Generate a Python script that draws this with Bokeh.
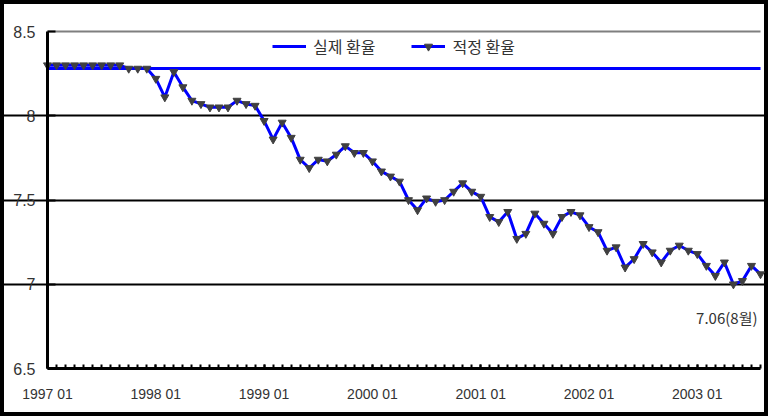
from bokeh.plotting import figure
from bokeh.models import FixedTicker, Legend, LegendItem, Range1d, Grid
from bokeh.core.properties import value
from bokeh.embed import file_html
from bokeh.resources import INLINE

# Monthly index: 0 = 1997-01 ... 79 = 2003-08
months = list(range(80))

year_ticks = [0, 12, 24, 36, 48, 60, 72]
year_labels = ["1997 01", "1998 01", "1999 01", "2000 01", "2001 01", "2002 01", "2003 01"]

y_ticks = [6.5, 7, 7.5, 8, 8.5]
y_labels = ["6.5", "7", "7.5", "8", "8.5"]
grid_levels = [7, 7.5, 8]

# Actual RMB/USD rate (pegged)
actual = [
    8.28, 8.28, 8.28, 8.28, 8.28, 8.28, 8.28, 8.28, 8.28, 8.28, 8.28, 8.28,
    8.28, 8.28, 8.28, 8.28, 8.28, 8.28, 8.28, 8.28, 8.28, 8.28, 8.28, 8.28,
    8.28, 8.28, 8.28, 8.28, 8.28, 8.28, 8.28, 8.28, 8.28, 8.28, 8.28, 8.28,
    8.28, 8.28, 8.28, 8.28, 8.28, 8.28, 8.28, 8.28, 8.28, 8.28, 8.28, 8.28,
    8.28, 8.28, 8.28, 8.28, 8.28, 8.28, 8.28, 8.28, 8.28, 8.28, 8.28, 8.28,
    8.28, 8.28, 8.28, 8.28, 8.28, 8.28, 8.28, 8.28, 8.28, 8.28, 8.28, 8.28,
    8.28, 8.28, 8.28, 8.28, 8.28, 8.28, 8.28, 8.28,
]

# Estimated equilibrium rate
appropriate = [
    8.30, 8.30, 8.30, 8.30, 8.30, 8.30, 8.30, 8.30, 8.30, 8.28, 8.28, 8.28,
    8.22, 8.11, 8.26, 8.17, 8.09, 8.07, 8.05, 8.05, 8.05, 8.09, 8.07, 8.06,
    7.97, 7.86, 7.96, 7.87, 7.74, 7.69, 7.74, 7.73, 7.77, 7.82, 7.78, 7.78,
    7.73, 7.67, 7.64, 7.61, 7.50, 7.44, 7.51, 7.49, 7.50, 7.55, 7.60, 7.55,
    7.52, 7.40, 7.37, 7.43, 7.27, 7.30, 7.42, 7.36, 7.30, 7.40, 7.43, 7.41,
    7.34, 7.31, 7.20, 7.22, 7.10, 7.15, 7.24, 7.19, 7.13, 7.20, 7.23, 7.20,
    7.18, 7.11, 7.05, 7.13, 7.00, 7.02, 7.11, 7.06,
]

last_label = f"{appropriate[-1]:.2f}(8월)"

TEXT = "#333333"
NUM_FONT = "Liberation Sans"
KR_FONT = "Noto Sans CJK KR"
EDGE = "#7f7f7f"

# Canvas size and where the plotting area sits inside it (pixels)
W, H = 768, 416
AREA_L, AREA_R, AREA_T, AREA_B = 47, 760, 31, 368

x_lo, x_hi = months[0], months[-1]
y_lo, y_hi = y_ticks[0], y_ticks[-1]
x_per_px = (x_hi - x_lo) / (AREA_R - AREA_L)
y_per_px = (y_hi - y_lo) / (AREA_B - AREA_T)

# The frame fills the whole canvas; axes sit at fixed data positions so the
# outer chart border can be drawn as the frame outline.
p = figure(
    width=W, height=H,
    output_backend="svg", toolbar_location=None,
    x_range=Range1d(x_lo - AREA_L * x_per_px, x_hi + (W - AREA_R) * x_per_px),
    y_range=Range1d(y_lo - (H - AREA_B) * y_per_px, y_hi + AREA_T * y_per_px),
    min_border=0,
)
p.background_fill_color = "white"
p.border_fill_color = "white"
p.outline_line_color = "black"
p.outline_line_width = 7

# grey top and right edges of the plotting area
p.add_layout(Grid(dimension=0, ticker=FixedTicker(ticks=[x_hi]), bounds=(y_lo, y_hi),
                  grid_line_color=EDGE, grid_line_width=2))
p.segment(x0=[x_lo], y0=[y_hi], x1=[x_hi], y1=[y_hi], line_color=EDGE, line_width=2)

# axes
p.yaxis.fixed_location = x_lo
p.yaxis.bounds = (y_lo, y_hi)
p.yaxis.ticker = FixedTicker(ticks=y_ticks)
p.yaxis.major_label_overrides = dict(zip(y_ticks, y_labels))
p.yaxis.axis_line_color = "black"
p.yaxis.axis_line_width = 3
p.yaxis.major_tick_in = 8
p.yaxis.major_tick_out = 0
p.yaxis.major_tick_line_width = 2
p.yaxis.minor_tick_line_color = None
p.yaxis.major_label_standoff = 12
p.yaxis.major_label_text_font = NUM_FONT
p.yaxis.major_label_text_font_size = "16px"
p.yaxis.major_label_text_color = TEXT

p.xaxis.fixed_location = y_lo
p.xaxis.bounds = (x_lo, x_hi)
p.xaxis.ticker = FixedTicker(ticks=year_ticks, minor_ticks=months)
p.xaxis.major_label_overrides = dict(zip(year_ticks, year_labels))
p.xaxis.axis_line_color = "black"
p.xaxis.axis_line_width = 3
p.xaxis.major_tick_in = 4
p.xaxis.major_tick_out = 0
p.xaxis.minor_tick_in = 4
p.xaxis.minor_tick_out = 0
p.xaxis.major_tick_line_width = 2
p.xaxis.minor_tick_line_width = 2
p.xaxis.major_label_standoff = 17
p.xaxis.major_label_text_font = NUM_FONT
p.xaxis.major_label_text_font_size = "14px"
p.xaxis.major_label_text_color = TEXT

p.xgrid.grid_line_color = None
p.ygrid.ticker = FixedTicker(ticks=grid_levels)
p.ygrid.bounds = (x_lo, x_hi)
p.ygrid.grid_line_color = "black"
p.ygrid.grid_line_width = 2

# series
r_actual = p.line(months, actual, line_color="#0000FF", line_width=3)
r_appr = p.line(months, appropriate, line_color="#0000FF", line_width=3)
r_mark = p.scatter(months, appropriate, marker="inverted_triangle", size=8,
                   fill_color="#404040", line_color="#404040")

p.text(x=[months[-1]], y=[6.80], text=[last_label],
       text_align="right", text_baseline="middle", x_offset=-3,
       text_font=value(KR_FONT), text_font_size="15px", text_color=TEXT)

legend = Legend(
    items=[
        LegendItem(label="실제 환율", renderers=[r_actual]),
        LegendItem(label="적정 환율", renderers=[r_appr, r_mark]),
    ],
    orientation="horizontal", location=(272, 358),
    border_line_color=None, background_fill_alpha=0,
    label_text_font=KR_FONT, label_text_font_size="16px",
    label_text_color=TEXT, glyph_width=34, spacing=36,
    label_standoff=7, margin=0, padding=4,
)
p.add_layout(legend)

open("out.html", "w").write(file_html(p, INLINE))
